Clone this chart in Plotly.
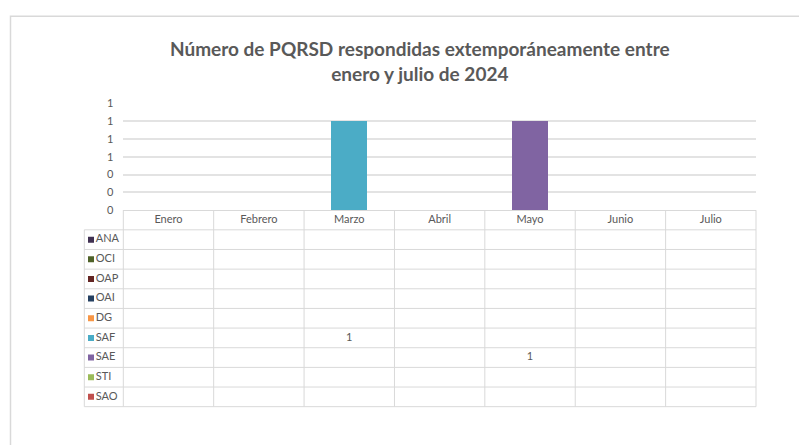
import plotly.graph_objects as go

# ---- data -------------------------------------------------------------
months = ["Enero", "Febrero", "Marzo", "Abril", "Mayo", "Junio", "Julio"]

ANA = [None, None, None, None, None, None, None]
OCI = [None, None, None, None, None, None, None]
OAP = [None, None, None, None, None, None, None]
OAI = [None, None, None, None, None, None, None]
DG = [None, None, None, None, None, None, None]
SAF = [None, None, 1, None, None, None, None]
SAE = [None, None, None, None, 1, None, None]
STI = [None, None, None, None, None, None, None]
SAO = [None, None, None, None, None, None, None]

series_names = ["ANA", "OCI", "OAP", "OAI", "DG", "SAF", "SAE", "STI", "SAO"]
series_values = [ANA, OCI, OAP, OAI, DG, SAF, SAE, STI, SAO]
series_colors = ["#403152", "#4f6228", "#632523", "#254061", "#f79646",
                 "#4bacc6", "#8064a2", "#9bbb59", "#c0504d"]

title_text = ("Número de PQRSD respondidas extemporáneamente entre<br>"
              "enero y julio de 2024")

# ---- layout geometry (pixels) ----------------------------------------
W, H = 799, 445
FONT = "Lato"
TXT = "#595959"
RULE = "#d9d9d9"

PLOT_L, PLOT_R = 123.3, 756.0      # bar plot / category columns
BAR_TOP, AXIS_Y = 99.3, 209.3      # bar plot vertical extent
TABLE_BOTTOM = 411.7
LAB_L = 84.3                       # left edge of the series-name column
N_ROWS = len(series_names)


def px(x):
    return x / W


def py(y):
    return 1 - y / H


col_w = (PLOT_R - PLOT_L) / len(months)
lab_units = (PLOT_L - LAB_L) / col_w
row_h = (TABLE_BOTTOM - AXIS_Y) / (N_ROWS + 1)

fig = go.Figure()

# stacked columns, one trace per office
for name, vals, col in zip(series_names, series_values, series_colors):
    fig.add_trace(go.Bar(x=months, y=vals, name=name, marker_color=col,
                         marker_line_width=0, showlegend=False,
                         xaxis="x", yaxis="y"))

# data table: month headers
fig.add_trace(go.Scatter(x=list(range(len(months))), y=[-0.5] * len(months),
                         mode="text", text=months,
                         textfont=dict(family=FONT, size=11, color=TXT),
                         showlegend=False, hoverinfo="skip",
                         xaxis="x2", yaxis="y2"))

# data table: legend keys and series names
key_x = -0.5 - lab_units + 6.7 / col_w
fig.add_trace(go.Scatter(x=[key_x] * N_ROWS,
                         y=[r + 0.5 for r in range(N_ROWS)],
                         mode="markers+text", text=series_names,
                         textposition="middle right",
                         marker=dict(symbol="square", size=6,
                                     color=series_colors),
                         textfont=dict(family=FONT, size=11, color=TXT),
                         showlegend=False, hoverinfo="skip",
                         xaxis="x2", yaxis="y2"))

# data table: cell values
cx, cy, ct = [], [], []
for r, vals in enumerate(series_values):
    for i, v in enumerate(vals):
        if v is not None:
            cx.append(i)
            cy.append(r + 0.5)
            ct.append(str(v))
fig.add_trace(go.Scatter(x=cx, y=cy, mode="text", text=ct,
                         textfont=dict(family=FONT, size=11, color=TXT),
                         showlegend=False, hoverinfo="skip",
                         xaxis="x2", yaxis="y2"))

# table rules
shapes = []
for i in range(len(months) + 1):
    x = px(PLOT_L + i * col_w)
    shapes.append(dict(type="line", xref="paper", yref="paper",
                       x0=x, x1=x, y0=py(AXIS_Y), y1=py(TABLE_BOTTOM),
                       line=dict(color=RULE, width=1)))
shapes.append(dict(type="line", xref="paper", yref="paper",
                   x0=px(LAB_L), x1=px(LAB_L),
                   y0=py(AXIS_Y + row_h), y1=py(TABLE_BOTTOM),
                   line=dict(color=RULE, width=1)))
for r in range(N_ROWS + 1):
    y = py(AXIS_Y + (r + 1) * row_h)
    shapes.append(dict(type="line", xref="paper", yref="paper",
                       x0=px(LAB_L), x1=px(PLOT_R), y0=y, y1=y,
                       line=dict(color=RULE, width=1)))
# chart-area frame
shapes.append(dict(type="rect", xref="paper", yref="paper",
                   x0=px(10.5), x1=1.05, y0=py(9.5), y1=-0.05,
                   line=dict(color=RULE, width=1.5), fillcolor="rgba(0,0,0,0)"))

fig.update_layout(
    width=W, height=H,
    margin=dict(l=0, r=0, t=0, b=0),
    paper_bgcolor="white", plot_bgcolor="white",
    barmode="stack", bargap=0.6,
    hovermode=False,
    font=dict(family=FONT, size=11, color=TXT),
    annotations=[dict(text="<b>" + title_text + "</b>", xref="paper",
                      yref="paper", x=px(420), y=py(55.5),
                      xanchor="center", yanchor="middle", showarrow=False,
                      font=dict(family=FONT, size=19, color=TXT))],
    xaxis=dict(domain=[px(PLOT_L), px(PLOT_R)], anchor="y",
               showticklabels=False, ticks="", showgrid=False,
               showline=True, linecolor=RULE, linewidth=1,
               range=[-0.5, len(months) - 0.5], fixedrange=True),
    yaxis=dict(domain=[py(AXIS_Y), py(BAR_TOP)], anchor="x",
               range=[0, 1.2], dtick=0.2, tick0=0, tickformat=".0f",
               showgrid=True, gridcolor="#e3e3e3", gridwidth=1.5,
               zeroline=False, showline=False, ticks="",
               ticklabelstandoff=9,
               tickfont=dict(family=FONT, size=11, color=TXT),
               fixedrange=True),
    xaxis2=dict(domain=[px(LAB_L), px(PLOT_R)], anchor="y2",
                range=[-0.5 - lab_units, len(months) - 0.5],
                visible=False, fixedrange=True),
    yaxis2=dict(domain=[py(TABLE_BOTTOM), py(AXIS_Y)], anchor="x2",
                range=[N_ROWS, -1], visible=False, fixedrange=True),
    shapes=shapes,
)

fig.write_html("out.html")
